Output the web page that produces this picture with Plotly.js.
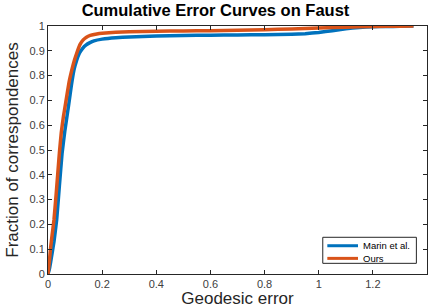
<!DOCTYPE html>
<html>
<head>
<meta charset="utf-8">
<script src="https://cdn.plot.ly/plotly-3.0.1.min.js"></script>
<style>html,body{margin:0;padding:0;background:#fff;}#chart{width:431px;height:308px;}</style>
</head>
<body>
<div id="chart"></div>
<script>
const seriesNames = ["Marin et al.", "Ours"];
const marinX = [0, 0.005, 0.01, 0.015, 0.022, 0.032, 0.042, 0.052, 0.062, 0.077, 0.086, 0.096, 0.106, 0.116, 0.128, 0.14, 0.155, 0.17, 0.20, 0.25, 0.30, 0.40, 0.50, 0.60, 0.70, 0.80, 0.90, 0.95, 1.00, 1.05, 1.10, 1.15, 1.20, 1.25, 1.30, 1.35];
const marinY = [0, 0.02, 0.05, 0.083, 0.13, 0.218, 0.355, 0.487, 0.575, 0.688, 0.758, 0.823, 0.862, 0.89, 0.91, 0.923, 0.933, 0.94, 0.947, 0.953, 0.956, 0.960, 0.962, 0.963, 0.964, 0.965, 0.967, 0.969, 0.974, 0.981, 0.989, 0.994, 0.997, 0.998, 0.999, 1.0];
const oursX = [0, 0.005, 0.01, 0.015, 0.022, 0.03, 0.042, 0.049, 0.057, 0.065, 0.078, 0.088, 0.097, 0.106, 0.118, 0.13, 0.142, 0.156, 0.18, 0.20, 0.25, 0.30, 0.40, 0.50, 0.60, 0.70, 0.80, 0.90, 1.00, 1.10, 1.20, 1.30, 1.35];
const oursY = [0, 0.05, 0.11, 0.155, 0.218, 0.32, 0.487, 0.57, 0.635, 0.688, 0.775, 0.823, 0.86, 0.89, 0.925, 0.944, 0.955, 0.962, 0.968, 0.971, 0.975, 0.977, 0.979, 0.980, 0.981, 0.983, 0.985, 0.988, 0.992, 0.995, 0.998, 0.999, 1.0];
const xTicks = [0, 0.2, 0.4, 0.6, 0.8, 1, 1.2, 1.4];
const xTickLabels = ["0", "0.2", "0.4", "0.6", "0.8", "1", "1.2", "1.4"];
const yTicks = [0, 0.1, 0.2, 0.3, 0.4, 0.5, 0.6, 0.7, 0.8, 0.9, 1];
const yTickLabels = ["0", "0.1", "0.2", "0.3", "0.4", "0.5", "0.6", "0.7", "0.8", "0.9", "1"];

const colors = ["#0072BD", "#D95319"];
const FONT = "Liberation Sans, Arial, sans-serif";
const traces = [
  {x: marinX, y: marinY, name: seriesNames[0], type: "scatter", mode: "lines", line: {color: colors[0], width: 3.5, shape: "spline", smoothing: 0.3}},
  {x: oursX, y: oursY, name: seriesNames[1], type: "scatter", mode: "lines", line: {color: colors[1], width: 3.5, shape: "spline", smoothing: 0.3}}
];
const axisCommon = {
  showgrid: false, zeroline: false, showline: true, linecolor: "#262626", linewidth: 1,
  mirror: "ticks", ticks: "inside", ticklen: 4, tickcolor: "#262626",
  tickfont: {family: FONT, size: 11, color: "#404040"}
};
// Legend drawn manually (paper coordinates) to match compact MATLAB legend
const legBox = {x0: 0.725, x1: 0.972, y0: 0.043, y1: 0.148};
const legRows = [0.114, 0.063];
const shapes = [
  {type: "rect", xref: "paper", yref: "paper", x0: legBox.x0, x1: legBox.x1, y0: legBox.y0, y1: legBox.y1,
   line: {color: "#262626", width: 1}, fillcolor: "#fff", layer: "above"}
];
const annotations = [];
seriesNames.forEach((n, i) => {
  shapes.push({type: "line", xref: "paper", yref: "paper", x0: 0.737, x1: 0.818, y0: legRows[i], y1: legRows[i],
    line: {color: colors[i], width: 3}, layer: "above"});
  annotations.push({xref: "paper", yref: "paper", x: 0.825, y: legRows[i], xanchor: "left", yanchor: "middle",
    text: n, showarrow: false, font: {family: FONT, size: 9.5, color: "#000"}});
});
const layout = {
  width: 431, height: 308,
  margin: {l: 48, r: 4, t: 26, b: 34},
  paper_bgcolor: "#fff", plot_bgcolor: "#fff",
  title: {text: "<b>Cumulative Error Curves on Faust</b>", x: 0.5, xanchor: "center", y: 0.985, yanchor: "top",
    font: {family: FONT, size: 16.5, color: "#000"}},
  xaxis: Object.assign({}, axisCommon, {range: [0, 1.4], tickvals: xTicks, ticktext: xTickLabels,
    title: {text: "Geodesic error", standoff: 10, font: {family: FONT, size: 17, color: "#262626"}}}),
  yaxis: Object.assign({}, axisCommon, {range: [0, 1], tickvals: yTicks, ticktext: yTickLabels,
    title: {text: "Fraction of correspondences", standoff: 6, font: {family: FONT, size: 17, color: "#262626"}}}),
  showlegend: false,
  shapes: shapes,
  annotations: annotations
};
Plotly.newPlot("chart", traces, layout, {displayModeBar: false, staticPlot: true});
</script>
</body>
</html>
